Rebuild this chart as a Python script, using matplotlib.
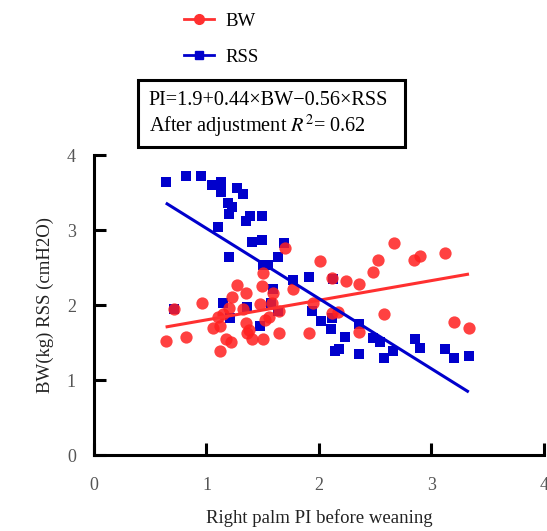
import numpy as np
import matplotlib
matplotlib.use("Agg")
import matplotlib.pyplot as plt
from matplotlib.lines import Line2D
from matplotlib.patches import Rectangle

plt.rcParams["font.family"] = ["Liberation Serif", "DejaVu Serif"]
plt.rcParams["mathtext.fontset"] = "stix"

# BW points (red circles)
bw_x = [0.641, 0.819, 0.962, 0.712, 1.060, 1.122, 1.122, 1.175, 1.220, 1.104,
        1.149, 1.202, 1.229, 1.273, 1.354, 1.327, 1.354, 1.380, 1.362, 1.407,
        1.505, 1.478, 1.523, 1.558, 1.496, 1.505, 1.594, 1.585, 1.647, 1.647,
        1.701, 1.772, 1.915, 1.950, 2.012, 2.119, 2.244, 2.360, 2.484, 2.529,
        2.663, 2.841, 2.894, 3.117, 2.119, 2.173, 2.582, 2.360, 3.197, 3.330]
bw_y = [1.52, 1.57, 2.03, 1.95, 1.69, 1.72, 1.39, 1.55, 1.51, 1.84,
        1.88, 1.96, 2.11, 2.27, 2.16, 1.95, 1.76, 1.67, 1.63, 1.55,
        1.55, 2.01, 1.80, 1.84, 2.25, 2.43, 2.16, 2.03, 1.92, 1.63,
        2.76, 2.21, 1.63, 2.03, 2.59, 2.36, 2.32, 2.28, 2.44, 2.60,
        2.83, 2.60, 2.65, 2.69, 1.89, 1.91, 1.88, 1.64, 1.77, 1.69]

# RSS points (blue squares)
rss_x = [0.641, 0.819, 0.953, 1.051, 1.131, 1.131, 1.273, 1.327, 1.193, 1.229,
         1.202, 1.389, 1.496, 1.354, 1.104, 1.407, 1.496, 1.692, 1.202, 1.638,
         1.505, 1.549, 1.772, 1.915, 2.128, 1.594, 0.712, 1.149, 1.362, 1.576,
         1.638, 1.211, 1.478, 1.941, 2.021, 2.110, 2.119, 2.235, 2.360, 2.146,
         2.182, 2.360, 2.484, 2.538, 2.582, 2.662, 2.850, 2.894, 3.117, 3.197,
         3.330]
rss_y = [3.64, 3.72, 3.72, 3.60, 3.64, 3.51, 3.56, 3.48, 3.36, 3.31,
         3.21, 3.19, 3.19, 3.12, 3.04, 2.84, 2.87, 2.83, 2.64, 2.64,
         2.53, 2.53, 2.33, 2.37, 2.35, 2.21, 1.95, 2.03, 1.97, 2.03,
         1.92, 1.83, 1.72, 1.92, 1.79, 1.68, 1.83, 1.57, 1.75, 1.39,
         1.41, 1.35, 1.56, 1.51, 1.29, 1.39, 1.55, 1.43, 1.41, 1.29,
         1.32]

# fitted lines (intercept, slope) and x range
bw_fit = (1.54, 0.262)
rss_fit = (3.958, -0.936)
fit_range = [0.65, 3.32]

ticks = [0, 1, 2, 3, 4]

fig = plt.figure(figsize=(5.47, 5.31), dpi=100)
ax = fig.add_axes([0.1718, 0.1431, 0.8227, 0.5649])

ax.scatter(rss_x, rss_y, marker="s", s=62, color="#0000cc", linewidths=0, zorder=2)
ax.scatter(bw_x, bw_y, marker="o", s=78, color="#ff2020", alpha=0.85, linewidths=0, zorder=3)

xs = np.array(fit_range)
ax.plot(xs, bw_fit[0] + bw_fit[1] * xs, color="#ff3030", lw=2.2, zorder=4)
ax.plot(xs, rss_fit[0] + rss_fit[1] * xs, color="#0000cc", lw=2.2, zorder=4)

ax.set_xlim(0, 4)
ax.set_ylim(0, 4)
ax.set_xticks(ticks)
ax.set_yticks(ticks)
ax.spines["top"].set_visible(False)
ax.spines["right"].set_visible(False)
for s in ["left", "bottom"]:
    ax.spines[s].set_linewidth(2.2)
ax.tick_params(direction="in", length=8.5, width=2.2, labelsize=13,
               labelcolor="#555555")
ax.tick_params(axis="x", pad=16)
ax.tick_params(axis="y", pad=13)
ax.set_xlabel("Right palm PI before weaning", fontsize=13.5, labelpad=11, color="#222222")
ax.set_ylabel("BW(kg) RSS (cmH2O)", fontsize=13.5, labelpad=9, color="#222222")

handles = [Line2D([], [], color="#ff3030", marker="o", markersize=7, lw=2),
           Line2D([], [], color="#0000cc", marker="s", markersize=6, lw=2)]
fig.legend(handles, ["BW", "RSS"], loc="upper left", bbox_to_anchor=(0.305, 1.008),
           frameon=False, fontsize=13.5, handlelength=1.6, handletextpad=0.6,
           labelspacing=1.0)

fig.patches.append(Rectangle((0.2523, 0.7232), 0.488, 0.1261, transform=fig.transFigure,
                             fill=False, edgecolor="black", lw=2.2))
fig.text(0.272, 0.810, "PI=1.9+0.44×BW−0.56×RSS", fontsize=14.6, va="center")
fig.text(0.272, 0.761, r"After adjustment $\mathit{R}^2$= 0.62", fontsize=14.6, va="center")

fig.savefig("out.png", dpi=100)
